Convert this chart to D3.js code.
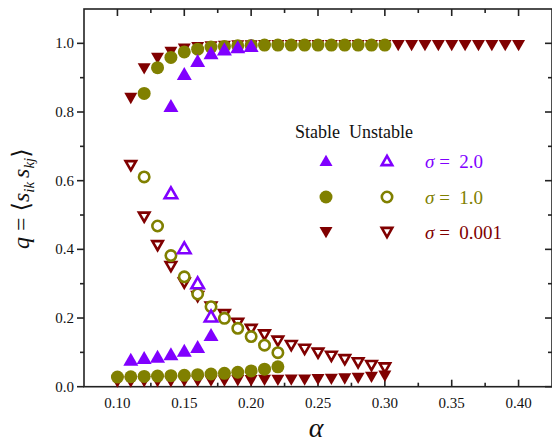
<!DOCTYPE html>
<meta charset="utf-8">
<title>q vs alpha</title>
<style>
body { margin: 0; background: #fff; }
svg { display: block; }
svg text { font-family: "Liberation Serif", Tinos, "DejaVu Serif", serif; }
</style>
<body>
<script src="https://cdn.jsdelivr.net/npm/d3@7"></script>
<script>
'use strict';

// sigma = 2.0 (purple, up triangles)
const s2StableHiA = [0.14, 0.15, 0.16, 0.17, 0.18, 0.19, 0.20];
const s2StableHiQ = [0.817, 0.910, 0.948, 0.971, 0.982, 0.988, 0.992];
const s2StableLoA = [0.11, 0.12, 0.13, 0.14, 0.15, 0.16, 0.17];
const s2StableLoQ = [0.078, 0.083, 0.087, 0.094, 0.104, 0.115, 0.150];
const s2UnstableA = [0.14, 0.15, 0.16, 0.17];
const s2UnstableQ = [0.563, 0.403, 0.301, 0.204];

// sigma = 1.0 (olive, circles)
const s1StableHiA = [0.12, 0.13, 0.14, 0.15, 0.16, 0.17, 0.18, 0.19, 0.20, 0.21, 0.22, 0.23, 0.24, 0.25, 0.26, 0.27, 0.28, 0.29, 0.30];
const s1StableHiQ = [0.854, 0.929, 0.959, 0.975, 0.983, 0.989, 0.991, 0.993, 0.994, 0.995, 0.995, 0.995, 0.995, 0.995, 0.995, 0.995, 0.995, 0.995, 0.995];
const s1StableLoA = [0.10, 0.11, 0.12, 0.13, 0.14, 0.15, 0.16, 0.17, 0.18, 0.19, 0.20, 0.21, 0.22];
const s1StableLoQ = [0.028, 0.029, 0.030, 0.031, 0.032, 0.033, 0.035, 0.037, 0.039, 0.042, 0.046, 0.051, 0.058];
const s1UnstableA = [0.12, 0.13, 0.14, 0.15, 0.16, 0.17, 0.18, 0.19, 0.20, 0.21, 0.22];
const s1UnstableQ = [0.611, 0.468, 0.382, 0.320, 0.270, 0.233, 0.199, 0.170, 0.146, 0.121, 0.099];

// sigma = 0.001 (dark red, down triangles)
const s0StableHiA = [0.11, 0.12, 0.13, 0.14, 0.15, 0.16, 0.17, 0.18, 0.19, 0.20, 0.21, 0.22, 0.23, 0.24, 0.25, 0.26, 0.27, 0.28, 0.29, 0.30, 0.31, 0.32, 0.33, 0.34, 0.35, 0.36, 0.37, 0.38, 0.39, 0.40];
const s0StableHiQ = [0.841, 0.927, 0.958, 0.975, 0.985, 0.989, 0.991, 0.993, 0.994, 0.994, 0.995, 0.995, 0.995, 0.995, 0.995, 0.995, 0.995, 0.995, 0.995, 0.995, 0.995, 0.995, 0.995, 0.995, 0.995, 0.995, 0.995, 0.995, 0.995, 0.995];
const s0StableLoA = [0.10, 0.11, 0.12, 0.13, 0.14, 0.15, 0.16, 0.17, 0.18, 0.19, 0.20, 0.21, 0.22, 0.23, 0.24, 0.25, 0.26, 0.27, 0.28, 0.29, 0.30];
const s0StableLoQ = [0.015, 0.015, 0.016, 0.016, 0.016, 0.017, 0.017, 0.018, 0.018, 0.019, 0.019, 0.020, 0.020, 0.021, 0.021, 0.022, 0.023, 0.024, 0.026, 0.029, 0.032];
const s0UnstableA = [0.11, 0.12, 0.13, 0.14, 0.15, 0.16, 0.17, 0.18, 0.19, 0.20, 0.21, 0.22, 0.23, 0.24, 0.25, 0.26, 0.27, 0.28, 0.29, 0.30];
const s0UnstableQ = [0.645, 0.495, 0.412, 0.351, 0.303, 0.264, 0.233, 0.211, 0.186, 0.168, 0.152, 0.134, 0.121, 0.110, 0.099, 0.090, 0.080, 0.071, 0.063, 0.056];

const xTicks = [0.10, 0.15, 0.20, 0.25, 0.30, 0.35, 0.40];
const yTicks = [0.0, 0.2, 0.4, 0.6, 0.8, 1.0];
const legendLabels = ["2.0", "1.0", "0.001"];

const purple = "#8000ff", olive = "#808000", darkred = "#800000";
const serif = '"Liberation Serif", Tinos, "DejaVu Serif", serif';

const W = 552, H = 445;
const margin = {top: 9, right: 0, bottom: 58, left: 84};

const svg = d3.select("body").append("svg").attr("width", W).attr("height", H)
  .attr("font-family", serif);

const x = d3.scaleLinear().domain([0.075, 0.425]).range([margin.left, W - margin.right]);
const y = d3.scaleLinear().domain([0, 1.1]).range([H - margin.bottom - 0.3, margin.top]);

const x0 = margin.left, x1 = W - margin.right, y0 = y(0), y1 = margin.top;

// marker shapes, centred on (0,0)
function tri(s, up) {
  const h = s * 0.87, d = up ? 1 : -1;
  return `M0,${-d * h * 0.55}L${s / 2},${d * h * 0.45}L${-s / 2},${d * h * 0.45}Z`;
}
function marker(g, shape, color, filled, size) {
  let m;
  if (shape === "circle") {
    m = g.append("circle").attr("r", filled ? size / 2 : size / 2 - 1.3);
  } else {
    const s = filled ? size : size - 2.5;
    m = g.append("path").attr("d", tri(s, shape === "up"));
  }
  if (filled) m.attr("fill", color);
  else m.attr("fill", "#fff").attr("stroke", color).attr("stroke-width", 2.6);
  return m;
}

function drawSeries(xs, qs, shape, color, filled, size) {
  const g = svg.append("g");
  xs.forEach((a, i) => {
    const p = g.append("g").attr("transform", `translate(${x(a)},${y(qs[i])})`);
    marker(p, shape, color, filled, size);
  });
}

// axes frame and ticks
const axes = svg.append("g").attr("stroke", "#222").attr("stroke-width", 1.6);
axes.append("rect").attr("x", x0).attr("y", y1).attr("width", x1 - x0).attr("height", y0 - y1).attr("fill", "none");

d3.range(0.10, 0.4001, 0.025).forEach(v => {
  const major = Math.abs(Math.round(v * 20) - v * 20) < 1e-6;
  const len = major ? 7 : 4;
  axes.append("line").attr("x1", x(v)).attr("x2", x(v)).attr("y1", y0).attr("y2", y0 - len);
  axes.append("line").attr("x1", x(v)).attr("x2", x(v)).attr("y1", y1).attr("y2", y1 + len);
});
d3.range(0, 1.0001, 0.1).forEach(v => {
  const major = Math.abs(Math.round(v * 5) - v * 5) < 1e-6;
  const len = major ? 7 : 4;
  axes.append("line").attr("x1", x0).attr("x2", x0 - len).attr("y1", y(v)).attr("y2", y(v));
  axes.append("line").attr("x1", x1).attr("x2", x1 - len).attr("y1", y(v)).attr("y2", y(v));
});

svg.append("g").selectAll("text").data(xTicks).join("text")
  .attr("x", d => x(d)).attr("y", y0 + 21).attr("font-family", serif)
  .attr("text-anchor", "middle").attr("font-size", 15).attr("fill", "#111")
  .text(d => d3.format(".2f")(d));
svg.append("g").selectAll("text").data(yTicks).join("text")
  .attr("x", x0 - 10).attr("y", d => y(d) + 5).attr("font-family", serif)
  .attr("text-anchor", "end").attr("font-size", 15).attr("fill", "#111")
  .text(d => d3.format(".1f")(d));

// data: red first, then olive, then purple on top
drawSeries(s0StableLoA, s0StableLoQ, "down", darkred, true, 13);
drawSeries(s0UnstableA, s0UnstableQ, "down", darkred, false, 13);
drawSeries(s0StableHiA, s0StableHiQ, "down", darkred, true, 13);
drawSeries(s1StableLoA, s1StableLoQ, "circle", olive, true, 13);
drawSeries(s1UnstableA, s1UnstableQ, "circle", olive, false, 13);
drawSeries(s1StableHiA, s1StableHiQ, "circle", olive, true, 13);
drawSeries(s2StableLoA, s2StableLoQ, "up", purple, true, 15);
drawSeries(s2UnstableA, s2UnstableQ, "up", purple, false, 15);
drawSeries(s2StableHiA, s2StableHiQ, "up", purple, true, 15);

// legend
const leg = svg.append("g");
leg.append("text").attr("x", 295).attr("y", 138).attr("font-size", 18).attr("fill", "#111")
  .attr("font-family", serif).attr("xml:space", "preserve").text("Stable  Unstable");
const legRows = [
  {shape: "up", color: purple, y: 161},
  {shape: "circle", color: olive, y: 197},
  {shape: "down", color: darkred, y: 232}
];
legRows.forEach((r, i) => {
  const a = leg.append("g").attr("transform", `translate(326,${r.y})`);
  marker(a, r.shape, r.color, true, 13);
  const b = leg.append("g").attr("transform", `translate(387,${r.y})`);
  marker(b, r.shape, r.color, false, 13);
  const t = leg.append("text").attr("x", 425).attr("y", r.y + 7).attr("font-size", 19).attr("fill", r.color)
    .attr("font-family", serif).attr("xml:space", "preserve");
  t.append("tspan").attr("font-style", "italic").text("σ");
  t.append("tspan").text(" =  " + legendLabels[i]);
});

// axis titles
svg.append("text").attr("x", (x0 + x1) / 2 - 2).attr("y", 437).attr("font-family", serif)
  .attr("text-anchor", "middle").attr("font-size", 28).attr("font-style", "italic").attr("fill", "#111")
  .text("α");

const yl = svg.append("text").attr("transform", `translate(29,${y(0.6) + 18}) rotate(-90)`)
  .attr("font-family", serif)
  .attr("text-anchor", "middle").attr("font-size", 24).attr("fill", "#111");
yl.append("tspan").attr("font-style", "italic").text("q");
yl.append("tspan").text(" = ⟨");
yl.append("tspan").attr("font-style", "italic").text("s");
yl.append("tspan").attr("font-style", "italic").attr("font-size", 15).attr("dy", 5).text("ik");
yl.append("tspan").attr("font-style", "italic").attr("dy", -5).attr("dx", 4).text("s");
yl.append("tspan").attr("font-style", "italic").attr("font-size", 15).attr("dy", 5).text("kj");
yl.append("tspan").attr("dy", -5).text("⟩");
</script>
</body>
